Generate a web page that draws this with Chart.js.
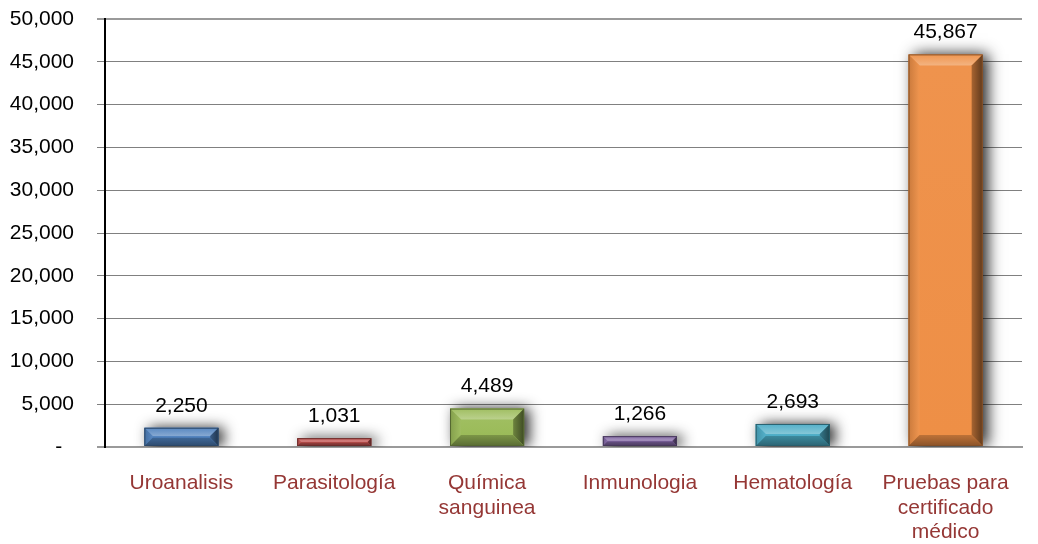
<!DOCTYPE html>
<html>
<head>
<meta charset="utf-8">
<script src="https://cdn.jsdelivr.net/npm/chart.js@4/dist/chart.umd.min.js"></script>
<style>
  html, body { margin: 0; padding: 0; background: #fff; }
  #wrap { width: 1038px; height: 544px; position: relative; }
</style>
</head>
<body>
<div id="wrap"><canvas id="c"></canvas></div>
<script>
// Laboratory tests by area
const categories = [
  'Uroanalisis',
  'Parasitología',
  ['Química', 'sanguinea'],
  'Inmunologia',
  'Hematología',
  ['Pruebas para', 'certificado', 'médico']
];
const values = [2250, 1031, 4489, 1266, 2693, 45867];
const barColors = ['#4F81BD', '#C0504D', '#9BBB59', '#8064A2', '#4BACC6', '#EE8F46'];
const yTicks = [0, 5000, 10000, 15000, 20000, 25000, 30000, 35000, 40000, 45000, 50000];

const FONT = '"Liberation Sans", Arial, sans-serif';
const FSIZE = 21;

function shade(hex, amt) {
  const n = parseInt(hex.slice(1), 16);
  let r = (n >> 16) & 255, g = (n >> 8) & 255, b = n & 255;
  const f = c => amt >= 0 ? Math.round(c + (255 - c) * amt) : Math.round(c * (1 + amt));
  return `rgb(${f(r)},${f(g)},${f(b)})`;
}

// Soft drop shadow behind the bars
const shadowPlugin = {
  id: 'barShadow',
  beforeDatasetsDraw(chart) {
    const ctx = chart.ctx;
    ctx.save();
    ctx.shadowColor = 'rgba(0,0,0,0.85)';
    ctx.shadowBlur = 14;
    ctx.shadowOffsetX = 5;
    ctx.shadowOffsetY = 0;
  },
  afterDatasetsDraw(chart) {
    chart.ctx.restore();
  }
};

// Bevelled faces on each bar plus the value labels above them
const bevelPlugin = {
  id: 'bevel',
  afterDatasetsDraw(chart) {
    const ctx = chart.ctx;
    const meta = chart.getDatasetMeta(0);
    meta.data.forEach((bar, i) => {
      const { x, y, base, width } = bar.getProps(['x', 'y', 'base', 'width'], true);
      const l = x - width / 2, r = x + width / 2, t = y, b = base;
      const h = b - t;
      const bv = Math.min(11, h / 2.2, width / 4);
      const col = barColors[i];
      ctx.save();
      const face = (pts, fill) => {
        ctx.beginPath();
        ctx.moveTo(pts[0][0], pts[0][1]);
        for (let k = 1; k < pts.length; k++) ctx.lineTo(pts[k][0], pts[k][1]);
        ctx.closePath();
        ctx.fillStyle = fill;
        ctx.fill();
      };
      const grad = (x0, y0, x1, y1, c0, c1) => {
        const g = ctx.createLinearGradient(x0, y0, x1, y1);
        g.addColorStop(0, c0);
        g.addColorStop(1, c1);
        return g;
      };
      // centre face
      face([[l + bv, t + bv], [r - bv, t + bv], [r - bv, b - bv], [l + bv, b - bv]],
        grad(0, t + bv, 0, b - bv, shade(col, 0.04), col));
      // top
      face([[l, t], [r, t], [r - bv, t + bv], [l + bv, t + bv]],
        grad(0, t, 0, t + bv, shade(col, 0.05), shade(col, 0.32)));
      // left
      face([[l, t], [l + bv, t + bv], [l + bv, b - bv], [l, b]],
        grad(l, 0, l + bv, 0, shade(col, -0.15), shade(col, 0.05)));
      // right
      face([[r, t], [r, b], [r - bv, b - bv], [r - bv, t + bv]],
        grad(r - bv, 0, r, 0, shade(col, -0.3), shade(col, -0.6)));
      // bottom
      face([[l, b], [l + bv, b - bv], [r - bv, b - bv], [r, b]],
        grad(0, b - bv, 0, b, shade(col, -0.2), shade(col, -0.42)));
      // thin dark rim
      ctx.strokeStyle = shade(col, -0.45);
      ctx.lineWidth = 1;
      ctx.strokeRect(l + 0.5, t + 0.5, width - 1, h - 1);
      ctx.restore();

      // value label
      ctx.save();
      ctx.font = FSIZE + 'px ' + FONT;
      ctx.fillStyle = '#000';
      ctx.textAlign = 'center';
      ctx.textBaseline = 'middle';
      ctx.fillText(values[i].toLocaleString('en-US'), x, t - 22);
      ctx.restore();
    });
  }
};

new Chart(document.getElementById('c'), {
  type: 'bar',
  data: {
    labels: categories,
    datasets: [{
      data: values,
      backgroundColor: barColors,
      borderWidth: 0,
      categoryPercentage: 1,
      barPercentage: 0.485
    }]
  },
  options: {
    responsive: true,
    maintainAspectRatio: false,
    animation: false,
    events: [],
    layout: { padding: { top: 19, right: 16, left: 0, bottom: 0 } },
    plugins: { legend: { display: false }, tooltip: { enabled: false } },
    scales: {
      x: {
        grid: { display: false, drawTicks: false },
        border: { display: true, color: '#9a9a9a', width: 2 },
        ticks: {
          color: '#953735',
          font: { family: FONT, size: FSIZE, lineHeight: 1.167 },
          padding: 24,
          maxRotation: 0,
          autoSkip: false
        },
        afterFit(scale) {
          scale.height = 97;
          scale.paddingLeft = 0;
          scale.paddingRight = 0;
        }
      },
      y: {
        min: 0,
        max: 50000,
        afterBuildTicks(scale) { scale.ticks = yTicks.map(v => ({ value: v })); },
        grid: {
          color: c => (c.tick && (c.tick.value === 50000 || c.tick.value === 0)) ? '#9a9a9a' : '#808080',
          lineWidth: c => (c.tick && (c.tick.value === 50000 || c.tick.value === 0)) ? 2 : 1,
          tickLength: 8,
          drawTicks: true
        },
        border: { display: true, color: '#000', width: 2 },
        ticks: {
          color: '#000',
          font: { family: FONT, size: FSIZE },
          padding: 23,
          callback: v => v === 0 ? '-  ' : Number(v).toLocaleString('en-US')
        },
        afterFit(scale) {
          scale.width = 105;
          scale.paddingTop = 0;
          scale.paddingBottom = 0;
        }
      }
    }
  },
  plugins: [shadowPlugin, bevelPlugin]
});
</script>
</body>
</html>
